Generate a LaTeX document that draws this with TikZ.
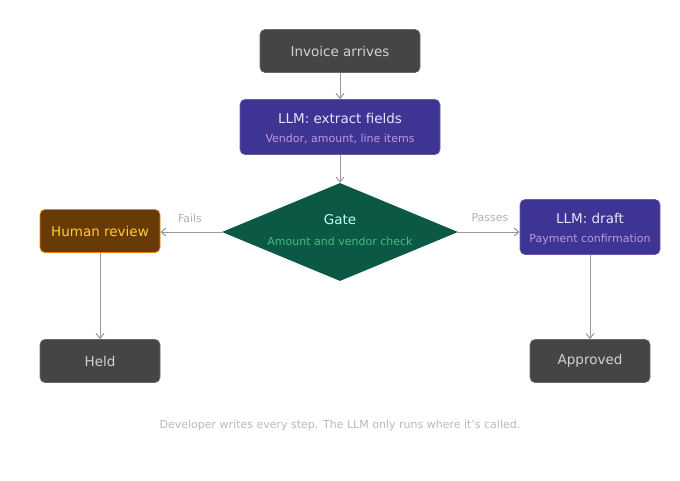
\documentclass[tikz,border=0pt]{standalone}
\usepackage{fontspec}
\setmainfont{DejaVu Sans}
\usetikzlibrary{arrows.meta,shapes.geometric}
\definecolor{boxgray}{HTML}{454545}
\definecolor{llmfill}{HTML}{3E3494}
\definecolor{humanfill}{HTML}{683A08}
\definecolor{gatefill}{HTML}{0B5845}
\begin{document}
\begin{tikzpicture}[x=1pt, y=-1pt, > = {Straight Barb[length=5pt,width=8pt]},
    box/.style = {draw=#1!80!white, fill=#1, rounded corners=5pt, line width=0.6pt, inner sep=0pt},
    wire/.style = {draw=gray!80, line width=1pt, ->},
    lbl/.style = {font=\fontsize{11}{13}\selectfont, text=gray!60},
    main/.style = {font=\fontsize{13.5}{16}\selectfont},
    sub/.style = {font=\fontsize{11}{13}\selectfont}]
  \useasboundingbox (0,0) rectangle (680,480);
  \node[box=boxgray, minimum width=160pt, minimum height=43pt, main, text=gray!35] (invoice) at (340,51) {Invoice arrives};
  \node[box=llmfill, minimum width=200pt, minimum height=55pt] (extract) at (340,127) {};
  \node[main, text=blue!10] at (340,118) {LLM: extract fields};
  \node[sub, text=blue!25!violet!40] at (340,139) {Vendor, amount, line items};
  \node[diamond, fill=gatefill, minimum width=236pt, minimum height=98pt, inner sep=0pt] (gate) at (340,232) {};
  \node[main, text=green!15!cyan!25] at (340,220) {Gate};
  \node[sub, text=green!50!cyan!50!gray] at (340,241) {Amount and vendor check};
  \node[box=humanfill, draw=orange!70!brown, minimum width=120pt, minimum height=43pt, main, text=orange!50!yellow!80] (human) at (100,231) {Human review};
  \node[box=llmfill, minimum width=140pt, minimum height=55pt] (draft) at (590,227) {};
  \node[main, text=blue!10] at (590,218) {LLM: draft};
  \node[sub, text=blue!25!violet!40] at (590,239) {Payment confirmation};
  \node[box=boxgray, minimum width=120pt, minimum height=43pt, main, text=gray!35] (held) at (100,361) {Held};
  \node[box=boxgray, minimum width=120pt, minimum height=43pt, main, text=gray!35] (approved) at (590,361) {Approved};
  % connectors
  \draw[wire] (invoice) -- (extract);
  \draw[wire] (extract) -- (gate);
  \draw[wire] (gate.west) -- (human.east |- gate.west);
  \draw[wire] (gate.east) -- (draft.west |- gate.east);
  \draw[wire] (human) -- (held);
  \draw[wire] (draft) -- (approved);
  \node[lbl] at (190,218) {Fails};
  \node[lbl] at (490,218) {Passes};
  \node[lbl, text=gray!55] (note) at (340,425) {Developer writes every step. The LLM only runs where it's called.};
\end{tikzpicture}
\end{document}
